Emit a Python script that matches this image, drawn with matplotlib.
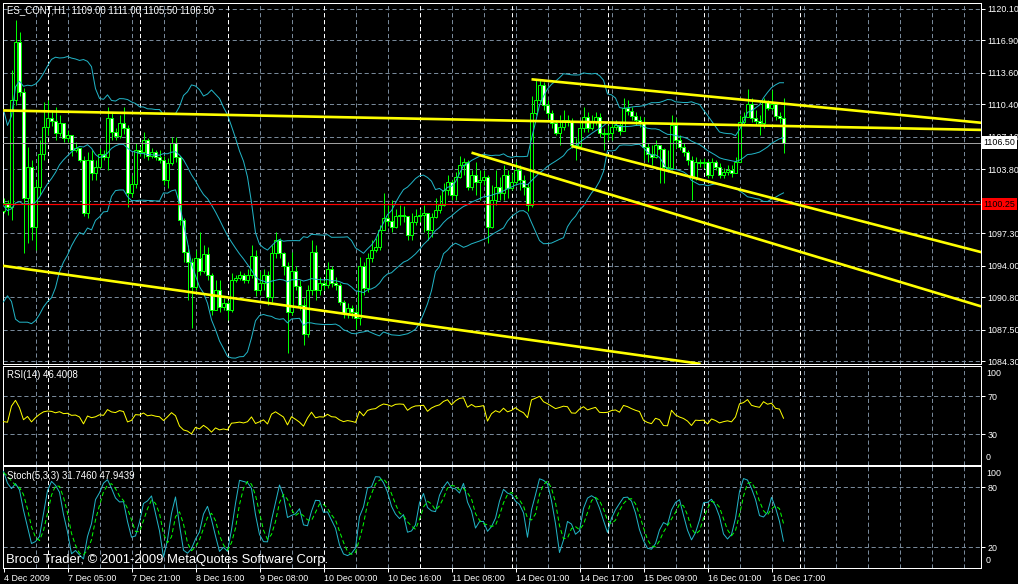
import numpy as np
import pandas as pd
import matplotlib
matplotlib.use('Agg')
import matplotlib.pyplot as plt
from matplotlib import font_manager
from matplotlib.transforms import blended_transform_factory

plt.rcParams['font.family'] = 'Liberation Sans'
plt.rcParams['lines.scale_dashes'] = False

# narrow face for the small terminal labels, if there is one
_names = {f.name for f in font_manager.fontManager.ttflist}
if 'Liberation Sans Narrow' in _names:
    NARROW, SMALL = 'Liberation Sans Narrow', 7.5
else:
    NARROW, SMALL = 'Liberation Sans', 6.4

W, H = 1018, 584

# ES_CONT H1 bars, 4 Dec 2009 -> 16 Dec 2009
closes = [
    1100.4, 1100.0, 1110.8, 1116.7, 1111.7, 1100.9, 1104.0, 1097.9, 1102.0, 1105.4,
    1108.1, 1109.0, 1108.7, 1107.5, 1108.5, 1107.0, 1107.3, 1105.8, 1106.0, 1104.7,
    1099.4, 1104.7, 1103.4, 1104.0, 1105.4, 1105.0, 1109.0, 1107.6, 1107.2, 1108.5,
    1108.0, 1101.4, 1102.3, 1105.8, 1105.6, 1106.8, 1105.2, 1105.6, 1105.0, 1104.7,
    1102.7, 1104.4, 1106.5, 1105.0, 1098.6, 1095.4, 1094.4, 1091.8, 1094.8, 1093.5,
    1095.2, 1093.0, 1089.5, 1091.5, 1089.8, 1090.2, 1089.5, 1092.5, 1092.7, 1093.0,
    1092.5, 1093.0, 1095.0, 1091.5, 1092.2, 1093.0, 1090.8, 1095.3, 1096.6, 1095.3,
    1094.0, 1089.3, 1093.5, 1091.9, 1090.0, 1087.1, 1091.5, 1095.4, 1091.5, 1092.2,
    1092.0, 1093.7, 1092.2, 1092.0, 1090.3, 1089.2, 1089.7, 1089.3, 1088.7, 1094.0,
    1091.7, 1094.8, 1095.6, 1095.9, 1097.6, 1098.8, 1098.5, 1097.9, 1099.0, 1099.2,
    1099.1, 1097.1, 1098.4, 1099.1, 1099.2, 1099.4, 1097.6, 1098.9, 1099.7, 1100.2,
    1101.7, 1102.5, 1101.2, 1103.0, 1104.2, 1104.5, 1102.0, 1103.2, 1102.5, 1102.7,
    1103.0, 1097.9, 1100.7, 1102.0, 1101.4, 1103.2, 1101.9, 1102.5, 1103.7, 1102.7,
    1102.0, 1100.2, 1109.5, 1110.8, 1112.4, 1110.3, 1109.5, 1108.5, 1107.5, 1108.1,
    1108.8, 1108.6, 1106.3, 1106.2, 1108.0, 1109.1, 1108.0, 1108.6, 1109.1, 1107.5,
    1107.4, 1107.5, 1108.1, 1108.3, 1107.7, 1110.0, 1109.7, 1109.2, 1108.8, 1108.5,
    1106.1, 1105.4, 1105.0, 1106.3, 1105.9, 1104.0, 1103.9, 1108.3, 1106.8, 1106.1,
    1105.6, 1104.7, 1103.0, 1104.5, 1104.4, 1104.5, 1103.2, 1104.5, 1104.0, 1103.2,
    1103.5, 1103.7, 1103.4, 1104.5, 1108.6, 1109.1, 1110.4, 1109.0, 1108.7, 1108.5,
    1110.6, 1110.0, 1110.4, 1109.2, 1109.0, 1106.5,
]
highs = [
    1100.9, 1100.7, 1113.9, 1119.0, 1117.8, 1112.1, 1106.1, 1104.7, 1102.7, 1106.8,
    1110.6, 1110.8, 1109.8, 1110.1, 1109.3, 1108.4, 1107.8, 1107.2, 1106.6, 1105.8,
    1105.2, 1105.6, 1105.8, 1104.7, 1106.0, 1105.8, 1110.1, 1109.5, 1108.0, 1109.3,
    1110.1, 1108.3, 1103.2, 1106.5, 1106.2, 1107.6, 1107.0, 1106.0, 1105.8, 1105.8,
    1105.2, 1104.9, 1107.1, 1107.1, 1105.2, 1098.8, 1096.1, 1094.8, 1095.6, 1097.4,
    1096.1, 1095.9, 1093.3, 1092.5, 1092.5, 1090.7, 1090.5, 1093.3, 1093.1, 1093.5,
    1093.3, 1093.7, 1096.1, 1095.6, 1093.5, 1093.7, 1093.5, 1096.1, 1097.4, 1096.8,
    1095.4, 1094.4, 1095.4, 1094.0, 1092.5, 1090.7, 1092.0, 1096.6, 1096.1, 1092.8,
    1092.5, 1094.4, 1094.0, 1092.8, 1092.2, 1090.5, 1090.2, 1090.0, 1089.7, 1094.9,
    1094.4, 1095.3, 1096.6, 1096.8, 1098.1, 1101.4, 1100.2, 1100.7, 1099.8, 1100.2,
    1100.1, 1099.1, 1099.4, 1099.8, 1099.8, 1100.2, 1099.1, 1099.4, 1100.9, 1101.2,
    1102.4, 1103.2, 1102.7, 1103.5, 1105.2, 1104.9, 1104.7, 1103.7, 1104.5, 1103.7,
    1103.7, 1103.2, 1102.2, 1103.7, 1103.0, 1104.2, 1103.7, 1103.4, 1104.5, 1104.2,
    1103.2, 1102.4, 1111.3, 1112.9, 1112.9, 1112.7, 1110.8, 1109.8, 1108.8, 1109.3,
    1109.8, 1109.3, 1109.0, 1107.0, 1108.6, 1110.1, 1109.6, 1109.3, 1109.6, 1109.5,
    1108.0, 1108.3, 1108.8, 1108.8, 1108.6, 1111.0, 1110.8, 1110.1, 1109.6, 1109.2,
    1109.1, 1106.5, 1106.3, 1106.8, 1106.3, 1106.0, 1105.8, 1109.3, 1109.0, 1107.3,
    1106.5, 1105.8, 1105.2, 1105.0, 1104.8, 1104.9, 1104.7, 1104.9, 1104.7, 1104.4,
    1103.9, 1104.2, 1104.2, 1105.0, 1109.3, 1109.6, 1112.0, 1111.0, 1109.8, 1109.3,
    1111.0, 1110.8, 1111.9, 1110.1, 1109.6, 1111.0,
]
lows = [
    1099.4, 1099.2, 1098.6, 1110.3, 1111.3, 1095.3, 1096.3, 1096.6, 1095.6, 1101.2,
    1104.7, 1107.3, 1108.2, 1106.8, 1107.2, 1106.6, 1106.6, 1105.2, 1105.6, 1104.5,
    1099.0, 1098.8, 1102.7, 1102.7, 1103.9, 1104.7, 1103.7, 1106.8, 1106.8, 1107.0,
    1107.4, 1100.0, 1101.0, 1101.9, 1105.2, 1104.9, 1104.7, 1104.9, 1104.7, 1104.4,
    1102.2, 1101.9, 1104.2, 1104.5, 1098.1, 1094.4, 1090.5, 1087.7, 1091.5, 1093.0,
    1093.3, 1092.5, 1089.0, 1089.5, 1089.3, 1089.5, 1088.5, 1089.3, 1092.3, 1092.5,
    1092.2, 1092.2, 1092.7, 1090.9, 1091.0, 1091.5, 1090.0, 1090.3, 1094.8, 1094.8,
    1093.0, 1085.1, 1089.0, 1091.5, 1089.5, 1085.9, 1086.7, 1091.0, 1090.5, 1091.0,
    1091.5, 1091.7, 1091.8, 1091.5, 1090.0, 1088.7, 1088.7, 1088.7, 1087.6, 1088.0,
    1091.0, 1091.3, 1094.4, 1095.4, 1095.6, 1097.8, 1098.0, 1097.4, 1097.8, 1098.1,
    1098.4, 1096.6, 1096.6, 1098.1, 1098.4, 1097.4, 1096.6, 1096.9, 1098.8, 1099.4,
    1100.1, 1101.2, 1100.7, 1100.7, 1102.9, 1103.2, 1101.7, 1101.7, 1101.2, 1100.7,
    1102.2, 1096.3, 1097.8, 1100.2, 1100.7, 1100.7, 1100.9, 1101.7, 1102.2, 1101.7,
    1101.2, 1099.6, 1100.0, 1109.3, 1110.6, 1109.8, 1109.0, 1108.0, 1107.3, 1106.3,
    1107.8, 1108.2, 1106.0, 1104.7, 1106.0, 1107.6, 1107.6, 1107.8, 1108.3, 1107.1,
    1105.8, 1106.8, 1106.8, 1107.8, 1107.3, 1108.0, 1109.3, 1108.8, 1108.3, 1108.1,
    1104.7, 1104.5, 1104.2, 1104.9, 1102.4, 1102.4, 1103.5, 1103.7, 1106.0, 1105.8,
    1105.2, 1104.2, 1100.7, 1102.7, 1104.0, 1103.9, 1102.9, 1102.9, 1103.7, 1102.9,
    1102.9, 1103.2, 1103.0, 1103.5, 1104.9, 1108.3, 1109.6, 1108.6, 1108.3, 1107.3,
    1108.0, 1109.8, 1109.8, 1108.8, 1108.5, 1105.5,
]
first_open = 1099.6
# closes before the visible window, estimated from the indicator levels at the left edge
warmup_closes = [1108, 1110, 1107, 1105, 1109, 1106, 1103, 1100, 1097, 1095,
                 1094, 1096, 1098, 1095, 1093, 1097, 1099, 1098, 1099.5, 1100]

# drawn objects (bar index, price)
trend_lines = [((0, 1109.78), (240, 1107.84)), ((0, 1093.98), (150, 1085.40))]
trend_rays = [((132, 1112.95), (190, 1110.67)),
              ((117, 1105.49), (240, 1090.40)),
              ((142, 1106.17), (240, 1095.84))]
alert_level = 1100.25

price_levels = [1120.10, 1116.90, 1113.60, 1110.40, 1107.10, 1103.80, 1100.60,
                1097.30, 1094.00, 1090.80, 1087.50, 1084.30]
price_labels = ['1120.10', '1116.90', '1113.60', '1110.40', '1107.10', '1103.80', '',
                '1097.30', '1094.00', '1090.80', '1087.50', '1084.30']
time_ticks = [0, 16, 32, 48, 64, 80, 96, 112, 128, 144, 160, 176, 192]
time_labels = ['4 Dec 2009', '7 Dec 05:00', '7 Dec 21:00', '8 Dec 16:00', '9 Dec 08:00',
               '10 Dec 00:00', '10 Dec 16:00', '11 Dec 08:00', '14 Dec 01:00',
               '14 Dec 17:00', '15 Dec 09:00', '16 Dec 01:00', '16 Dec 17:00']
day_starts = [11, 34, 56, 80, 104, 127, 151, 175, 199]

closes = np.array(closes)
highs = np.array(highs)
lows = np.array(lows)
opens = np.r_[first_open, closes[:-1]]
n = len(closes)
x = np.arange(n)

# indicators
nw = len(warmup_closes)
c_all = pd.Series(warmup_closes + list(closes))
h_all = pd.Series(warmup_closes + list(highs))
l_all = pd.Series(warmup_closes + list(lows))

mid = c_all.rolling(20).mean()
sd = c_all.rolling(20).std(ddof=0)
bb_mid = mid.iloc[nw:].to_numpy()
bb_up = (mid + 2 * sd).iloc[nw:].to_numpy()
bb_dn = (mid - 2 * sd).iloc[nw:].to_numpy()

chg = np.diff(c_all.to_numpy())
gain = np.clip(chg, 0, None)
loss = np.clip(-chg, 0, None)
rsi_all = np.full(len(c_all), np.nan)
ag, al = gain[:14].mean(), loss[:14].mean()
rsi_all[14] = 100 * ag / (ag + al)
for i in range(15, len(c_all)):
    ag = (ag * 13 + gain[i - 1]) / 14
    al = (al * 13 + loss[i - 1]) / 14
    rsi_all[i] = 100 * ag / (ag + al)
rsi = rsi_all[nw:]

ll = l_all.rolling(5).min()
hh = h_all.rolling(5).max()
k_line = ((c_all - ll).rolling(3).sum() / (hh - ll).rolling(3).sum() * 100)
d_line = k_line.rolling(3).mean()
stoch_k = k_line.iloc[nw:].to_numpy()
stoch_d = d_line.iloc[nw:].to_numpy()

# figure
GRID = '#778899'
LIME = '#00FF00'
BAND = '#22B4C6'
PX = 0.72

fig = plt.figure(figsize=(W / 100, H / 100), dpi=100, facecolor='black')


def rect(top, bottom, left=2.7, right=981.0):
    return [left / W, 1 - bottom / H, (right - left) / W, (bottom - top) / H]


ax = fig.add_axes(rect(2.7, 363.7))
ax_rsi = fig.add_axes(rect(366.0, 464.5))
ax_st = fig.add_axes(rect(466.0, 567.5))

xlim = (-0.2, 244.375)
for a in (ax, ax_rsi, ax_st):
    a.set_facecolor('black')
    a.set_xlim(*xlim)
    for s in a.spines.values():
        s.set_color('white')
        s.set_linewidth(PX)
    for b in range(8, 245, 8):
        a.axvline(b, color=GRID, lw=PX, dashes=(3, 2), zorder=0.5)
    for b in day_starts:
        a.axvline(b, color='white', lw=PX, dashes=(3, 2), zorder=0.6)
    a.tick_params(axis='x', which='both', length=0, labelbottom=False)
    a.yaxis.tick_right()
    a.tick_params(axis='y', colors='white', length=3, width=PX, pad=1.5, labelsize=SMALL)
    for lbl in a.get_yticklabels():
        lbl.set_family(NARROW)

# main panel
ax.set_ylim(1084.03, 1120.74)
for p in price_levels:
    ax.axhline(p, color=GRID, lw=PX, dashes=(3, 2), zorder=0.5)
ax.set_yticks(price_levels, price_labels, family=NARROW, fontsize=SMALL)

ax.vlines(x, np.minimum(lows, np.minimum(opens, closes)),
          np.maximum(highs, np.maximum(opens, closes)), color=LIME, lw=PX, zorder=2)
up = closes >= opens
ax.bar(x, np.abs(closes - opens), bottom=np.minimum(opens, closes), width=0.55,
       color=np.where(up, 'black', 'white'), edgecolor=LIME, linewidth=PX, zorder=3)

ax.plot(x, bb_up, color=BAND, lw=PX, zorder=4)
ax.plot(x, bb_mid, color=BAND, lw=PX, zorder=4)
ax.plot(x, bb_dn, color=BAND, lw=PX, zorder=4)

ax.axhline(closes[-1], color='#A0A0A0', lw=PX, zorder=3.5)
ax.axhline(alert_level, color='#FF0000', lw=PX * 1.2, zorder=4.5)

for p1, p2 in trend_lines:
    ax.axline(p1, p2, color='#FFFF00', lw=1.9, zorder=5)
for (x1, y1), (x2, y2) in trend_rays:
    slope = (y2 - y1) / (x2 - x1)
    ax.plot([x1, 260], [y1, y1 + slope * (260 - x1)], color='#FFFF00', lw=1.9,
            solid_capstyle='butt', zorder=5)

tr = blended_transform_factory(ax.transAxes, ax.transData)
ax.text(1.0025, closes[-1], f'{closes[-1]:.2f}', transform=tr, va='center', ha='left',
        fontsize=SMALL, family=NARROW, color='black', clip_on=False, zorder=10,
        bbox=dict(boxstyle='square,pad=0.2', fc='white', ec='none'))
ax.text(1.0025, alert_level, f'{alert_level:.2f}', transform=tr, va='center', ha='left',
        fontsize=SMALL, family=NARROW, color='black', clip_on=False, zorder=10,
        bbox=dict(boxstyle='square,pad=0.2', fc='#FF0000', ec='none'))

# RSI panel
ax_rsi.set_ylim(-1.57, 101.36)
for lv in (70, 30):
    ax_rsi.axhline(lv, color=GRID, lw=PX, dashes=(3, 2), zorder=0.5)
ax_rsi.set_yticks([70, 30], ['70', '30'], family=NARROW, fontsize=SMALL)
ax_rsi.plot(x, rsi, color='#FFFF00', lw=PX, zorder=3)
tr_r = blended_transform_factory(ax_rsi.transAxes, ax_rsi.transData)
ax_rsi.text(1.005, 94, '100', transform=tr_r, va='center', fontsize=SMALL, family=NARROW,
            color='white', clip_on=False)
ax_rsi.text(1.005, 6, '0', transform=tr_r, va='center', fontsize=SMALL, family=NARROW,
            color='white', clip_on=False)

# Stochastic panel
ax_st.set_ylim(-0.2, 101.3)
for lv in (80, 20):
    ax_st.axhline(lv, color=GRID, lw=PX, dashes=(3, 2), zorder=0.5)
ax_st.set_yticks([80, 20], ['80', '20'], family=NARROW, fontsize=SMALL)
ax_st.plot(x, stoch_k, color=BAND, lw=PX, zorder=3)
ax_st.plot(x, stoch_d, color=LIME, lw=PX, dashes=(3, 2), zorder=3)
tr_s = blended_transform_factory(ax_st.transAxes, ax_st.transData)
ax_st.text(1.005, 94, '100', transform=tr_s, va='center', fontsize=SMALL, family=NARROW,
           color='white', clip_on=False)
ax_st.text(1.005, 7, '0', transform=tr_s, va='center', fontsize=SMALL, family=NARROW,
           color='white', clip_on=False)
ax_st.set_xticks(time_ticks, time_labels, family=NARROW, fontsize=SMALL)
ax_st.tick_params(axis='x', length=3, width=PX, colors='white', labelbottom=True, pad=1.5)
for lbl in ax_st.get_xticklabels():
    lbl.set_ha('left')

# captions
fig.text(7 / W, 1 - 10.5 / H, 'ES_CONT,H1  1109.00 1111.00 1105.50 1106.50',
         color='white', fontsize=SMALL + 0.5, family=NARROW, va='center')
fig.text(7 / W, 1 - 375 / H, 'RSI(14) 46.4008', color='white', fontsize=SMALL + 0.5,
         family=NARROW, va='center')
fig.text(7 / W, 1 - 476 / H, 'Stoch(5,3,3) 31.7460 47.9439', color='white',
         fontsize=SMALL + 0.5, family=NARROW, va='center')
fig.text(6 / W, 1 - 560.5 / H, 'Broco Trader, \u00a9 2001-2009 MetaQuotes Software Corp.',
         color='white', fontsize=9.4, va='center', zorder=10)

fig.savefig('out.png', dpi=100, facecolor='black')
